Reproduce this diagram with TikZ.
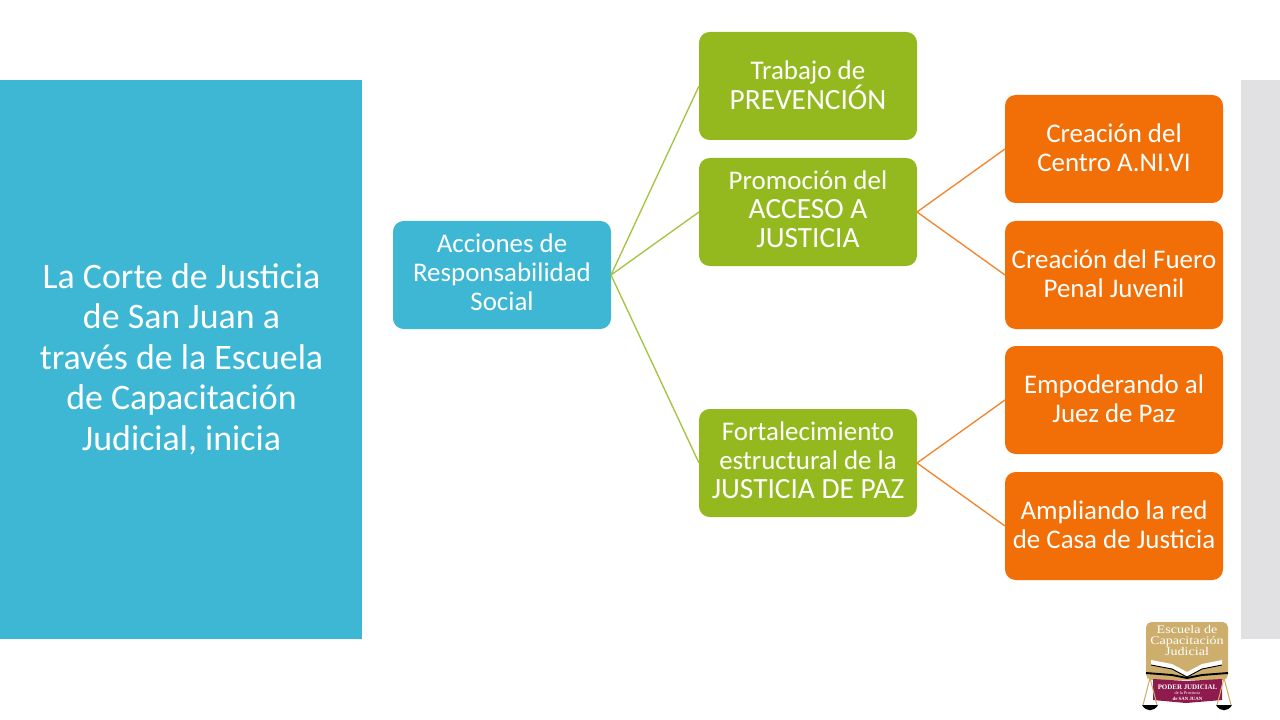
\documentclass[tikz,border=0pt]{standalone}
\usepackage{fontspec}
\setmainfont{Carlito}
\newfontfamily\sellofont{Liberation Serif}
\usetikzlibrary{positioning}
\definecolor{azul}{HTML}{3DB7D3}
\definecolor{verde}{HTML}{94B91F}
\definecolor{naranja}{HTML}{F26E06}
\definecolor{gris}{HTML}{E1E0E3}
\definecolor{tierra}{HTML}{CDAE6C}
\definecolor{vino}{HTML}{8E1A4E}
\newcommand{\mayus}[1]{{\fontsize{22}{21.75}\selectfont #1}}
\newcommand{\ancho}[1]{\scalebox{1.2}[1]{#1}}
\begin{document}
\begin{tikzpicture}[
	x=0.75pt, y=-0.75pt,
	panel/.style={inner sep=0pt, outer sep=0pt},
	caja/.style={rectangle, rounded corners=8pt, text=white, align=center,
	minimum width=163.5pt, minimum height=81pt, inner sep=0pt, outer sep=0pt,
	font=\fontsize{20.2}{21.75}\selectfont},
	tres/.style={execute at end node={\rule[-5pt]{0pt}{0pt}}},
	dos/.style={execute at end node={\rule[-1.5pt]{0pt}{0pt}}},
	cajaazul/.style={caja, tres, fill=azul},
	cajaverde/.style={caja, fill=verde},
	cajanaranja/.style={caja, dos, fill=naranja},
	rama/.style={draw=verde!85!white, line width=1pt},
	ramanaranja/.style={draw=naranja!85!white, line width=1pt},
	sello/.style={panel, text=white, align=center}
	]
	\useasboundingbox (0,0) rectangle (1280,720);
	\fill[azul] (0,80) rectangle (362,639);
	\fill[gris] (1241,80) rectangle (1280,639);
	\node[panel, text=white, align=center, font=\fontsize{26.9}{30.4}\selectfont] (titulo) at (181.5,359)
	{La Corte de Justicia\\de San Juan a\\través de la Escuela\\de Capacitación\\Judicial, inicia};

	\node[cajaazul] (acciones) at (502,275) {Acciones de\\Responsabilidad\\Social};
	\node[cajaverde, dos] (trabajo) [right=66pt of acciones, yshift=141.75pt] {Trabajo de\\\mayus{PREVENCIÓN}};
	\node[cajaverde, tres] (acceso) [below=13.5pt of trabajo] {Promoción del\\\mayus{ACCESO A}\\\mayus{JUSTICIA}};
	\node[cajaverde, tres] (paz) [below=107.25pt of acceso] {Fortalecimiento\\estructural de la\\\mayus{JUSTICIA DE PAZ}};
	\node[cajanaranja] (centro) [right=66pt of acceso, yshift=47.25pt] {Creación del\\Centro A.NI.VI};
	\node[cajanaranja] (fuero) [below=13.5pt of centro] {Creación del Fuero\\Penal Juvenil};
	\node[cajanaranja] (juez) [right=66pt of paz, yshift=47.25pt] {Empoderando al\\Juez de Paz};
	\node[cajanaranja] (casa) [below=13.5pt of juez] {Ampliando la red\\de Casa de Justicia};

	\draw[rama] (acciones.east) to (trabajo.west);
	\draw[rama] (acciones.east) to (acceso.west);
	\draw[rama] (acciones.east) to (paz.west);
	\draw[ramanaranja] (acceso.east) to (centro.west);
	\draw[ramanaranja] (acceso.east) to (fuero.west);
	\draw[ramanaranja] (paz.east) to (juez.west);
	\draw[ramanaranja] (paz.east) to (casa.west);

	% logo
	\fill[tierra, rounded corners=4pt] (1146,622) -- (1228,622) -- (1228,680) -- (1146,680) -- cycle;
	\fill[vino] (1153,679) -- (1186,681) -- (1222,679) -- (1222,700) -- (1186,703) -- (1153,700) -- cycle;
	\fill[white] (1151,660) -- (1172,664) -- (1187,672) -- (1202,664) -- (1222,660) -- (1222,665) -- (1202,669) -- (1187,677) -- (1172,669) -- (1151,665) -- cycle;
	\draw[black, line width=1.4pt] (1146,673) -- (1172,675) -- (1187,678) -- (1202,675) -- (1228,673);
	\draw[black, line width=.7pt] (1151,665) -- (1172,669) -- (1187,677) -- (1202,669) -- (1222,665);
	\node[sello, font=\sellofont\fontsize{8.8}{8}\selectfont] (escuela) at (1187,640.5)
	{\ancho{Escuela de}\\\ancho{Capacitación}\\\ancho{Judicial}};
	\node[sello, font=\sellofont\bfseries\fontsize{5.2}{4.2}\selectfont] (poder) at (1187.5,692.5)
	{PODER JUDICIAL\\{\mdseries\fontsize{3.2}{4.2}\selectfont de la Provincia}\\{\fontsize{3.6}{4.2}\selectfont de SAN JUAN}};
	\fill[black] (1142,705) .. controls (1146,712) and (1154,712) .. (1158,705) -- cycle;
	\fill[black] (1216,705) .. controls (1220,712) and (1228,712) .. (1232,705) -- cycle;
	\draw[tierra, line width=.8pt] (1150,678) -- (1143,705) (1150,678) -- (1157,705) (1224,678) -- (1217,705) (1224,678) -- (1231,705);
\end{tikzpicture}
\end{document}
